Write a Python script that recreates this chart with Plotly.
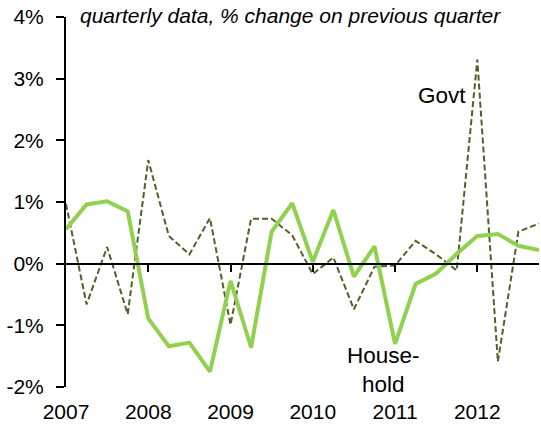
import plotly.graph_objects as go

quarters = list(range(24))  # 2007Q1 .. 2012Q4
year_ticks = [0, 4, 8, 12, 16, 20]
year_labels = ["2007", "2008", "2009", "2010", "2011", "2012"]
y_ticks = [-2, -1, 0, 1, 2, 3, 4]
y_labels = ["-2%", "-1%", "0%", "1%", "2%", "3%", "4%"]

household = [0.56, 0.96, 1.01, 0.85, -0.89, -1.34, -1.28, -1.75,
             -0.28, -1.36, 0.52, 0.98, 0.03, 0.87, -0.21, 0.28,
             -1.30, -0.33, -0.16, 0.16, 0.45, 0.48, 0.29, 0.22]
govt = [0.97, -0.66, 0.27, -0.82, 1.68, 0.45, 0.15, 0.74,
        -0.99, 0.73, 0.73, 0.46, -0.17, 0.10, -0.74, -0.05,
        -0.03, 0.37, 0.15, -0.11, 3.31, -1.59, 0.52, 0.65]

FONT = "Liberation Sans, Arial, sans-serif"
FS = 21
FS_LAB = 22.5

fig = go.Figure()
fig.add_trace(go.Scatter(x=quarters, y=govt, mode="lines", name="Govt",
                         line=dict(color="#4F6228", width=2, dash="6px,3px"),
                         hoverinfo="skip"))
fig.add_trace(go.Scatter(x=quarters, y=household, mode="lines", name="Household",
                         line=dict(color="#92D050", width=4),
                         hoverinfo="skip"))
# helper trace so the label axis exists
fig.add_trace(go.Scatter(x=quarters, y=household, mode="lines", xaxis="x2",
                         line=dict(width=0), opacity=0, showlegend=False,
                         hoverinfo="skip"))

fig.update_layout(
    width=541, height=425,
    margin=dict(l=66, r=2, t=17, b=38, autoexpand=False),
    paper_bgcolor="white", plot_bgcolor="white",
    showlegend=False,
    font=dict(family=FONT, size=FS, color="black"),
    xaxis=dict(range=[0, 23], anchor="free", position=1/3,
               showline=True, linecolor="black", linewidth=2,
               ticks="outside", ticklen=7, tickwidth=1.5, tickcolor="black",
               tickvals=year_ticks[1:], showticklabels=False, automargin=False,
               showgrid=False, zeroline=False, fixedrange=True),
    xaxis2=dict(range=[0, 23], overlaying="x", anchor="y", side="bottom",
                showline=False, ticks="", tickvals=year_ticks, ticktext=year_labels,
                showgrid=False, zeroline=False, automargin=False,
                ticklabelstandoff=10),
    yaxis=dict(range=[-2, 4], tickvals=y_ticks, ticktext=y_labels,
               showline=True, linecolor="black", linewidth=2,
               ticks="outside", ticklen=8, tickwidth=2, tickcolor="black",
               showgrid=False, zeroline=False, automargin=False,
               ticklabelstandoff=8),
)

fig.add_annotation(x=12 / 473.6, y=1.005, xref="paper", yref="paper",
                   xanchor="left", yanchor="middle",
                   text="<i>quarterly data, % change on previous quarter</i>",
                   showarrow=False, font=dict(family=FONT, size=FS, color="black"))
fig.add_annotation(x=18.27, y=2.72, xref="x", yref="y", xanchor="center", yanchor="middle",
                   text="Govt", showarrow=False,
                   font=dict(family=FONT, size=FS_LAB, color="black"))
fig.add_annotation(x=15.45, y=-1.72, xref="x", yref="y", xanchor="center", yanchor="middle",
                   text="House-<br>hold", showarrow=False,
                   font=dict(family=FONT, size=FS_LAB, color="black"))

fig.write_html("out.html", config={"displayModeBar": False},
               post_script="document.body.style.margin='0';")
